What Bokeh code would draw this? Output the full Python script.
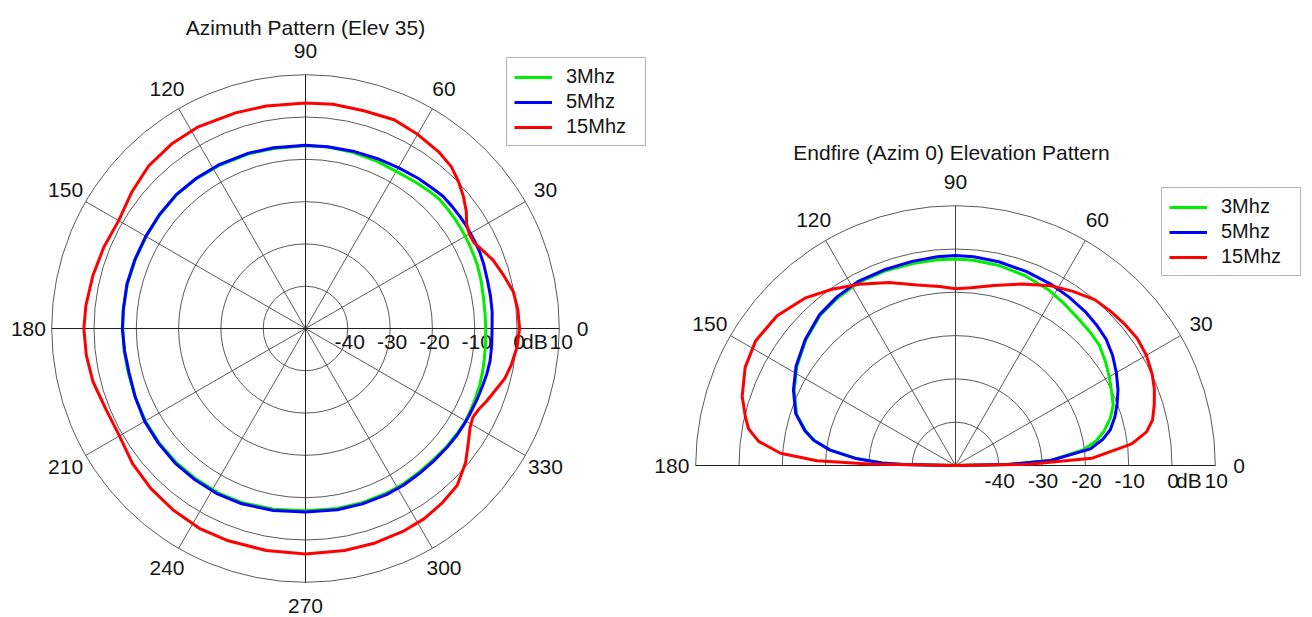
import numpy as np
from bokeh.plotting import figure
from bokeh.layouts import row
from bokeh.models import Legend, LegendItem, Range1d
from bokeh.embed import file_html
from bokeh.resources import INLINE
from bokeh.core.properties import value

# ---------------- data ----------------
SERIES = ["3Mhz", "5Mhz", "15Mhz"]
COLORS = ["#00ee00", "#0000ff", "#ff0000"]
DB_MIN = -50
RING_DB = [-40, -30, -20, -10, 0, 10]
RING_LABELS = ["-40", "-30", "-20", "-10", "0", "10"]

AZ_TITLE = "Azimuth Pattern (Elev 35)"
EL_TITLE = "Endfire (Azim 0) Elevation Pattern"
AZ_TICKS = [0, 30, 60, 90, 120, 150, 180, 210, 240, 270, 300, 330]
EL_TICKS = [0, 30, 60, 90, 120, 150, 180]

AZ_ANG = [0, 5, 10, 15, 20, 24, 27, 30, 33, 36, 40, 44, 48, 53, 60, 67, 75, 83, 90,
          100, 108, 118, 126, 134, 142, 150, 158, 166, 174, 180, 187, 194, 202, 210,
          218, 226, 234, 242, 250, 260, 270, 280, 288, 296, 302, 308, 314, 320, 325,
          329, 332, 335, 338, 342, 346, 350, 355, 360]
AZ_3MHZ = [-7.4, -7.4, -7.3, -7.0, -6.7, -6.6, -6.5, -6.4, -6.3, -6.2, -6.1, -6.0, -6.3,
           -6.7, -7.1, -7.0, -6.9, -6.8, -6.8, -6.8, -6.6, -6.4, -6.2, -6.1, -6.3, -6.5,
           -6.6, -6.6, -6.7, -6.8, -6.8, -6.8, -6.6, -6.3, -6.1, -6.0, -6.0, -6.0, -6.2,
           -6.6, -6.9, -6.8, -6.7, -6.6, -6.6, -6.7, -6.7, -6.5, -6.4, -6.3, -6.4, -6.5,
           -6.6, -6.7, -6.9, -7.1, -7.3, -7.4]
AZ_5MHZ = [-5.9, -5.7, -5.6, -5.5, -5.2, -5.0, -5.0, -5.0, -4.9, -4.9, -4.9, -4.9, -5.3,
           -5.6, -6.1, -6.4, -6.6, -6.7, -6.7, -6.6, -6.4, -6.2, -6.1, -6.0, -6.2, -6.4,
           -6.5, -6.5, -6.7, -6.7, -6.9, -7.0, -6.6, -6.1, -5.9, -5.7, -5.7, -5.7, -5.9,
           -6.3, -6.6, -6.5, -6.4, -6.3, -6.3, -6.4, -6.4, -6.3, -6.2, -6.2, -6.2, -6.2,
           -6.1, -6.0, -5.8, -5.7, -5.8, -5.9]
AZ_15MHZ = [0.6, 0.4, -0.1, -1.5, -2.8, -4.3, -5.3, -5.3, -4.6, -3.0, -1.3, 0.2, 1.5,
            2.3, 3.0, 3.6, 3.3, 3.4, 3.3, 3.4, 3.6, 4.0, 3.9, 3.4, 2.2, 1.0, 1.4, 1.8,
            2.2, 2.4, 2.2, 1.8, 0.9, 0.8, 1.9, 2.6, 3.1, 3.5, 3.4, 3.3, 3.3, 3.3, 3.3,
            3.2, 3.0, 2.4, 1.6, -0.6, -3.0, -4.6, -5.2, -4.8, -3.9, -2.8, -1.4, -0.6,
            0.2, 0.6]

EL_ANG = [0, 1, 3, 7, 10, 13, 17, 21, 25, 30, 35, 40, 45, 50, 56, 62, 70, 78, 85, 90,
          95, 102, 110, 118, 125, 132, 140, 148, 155, 162, 167, 170, 173, 176, 178, 179, 180]
EL_3MHZ = [-50, -38, -28, -20.2, -17.0, -14.8, -12.6, -11.0, -10.2, -9.0, -7.8, -6.7,
           -6.2, -5.8, -5.0, -4.1, -3.3, -2.7, -2.4, -2.3, -2.3, -2.3, -2.2, -2.2, -2.7,
           -3.3, -4.9, -6.8, -8.9, -11.4, -14.5, -17.0, -21.0, -27.2, -33, -38, -50]
EL_5MHZ = [-50, -38, -28, -18.6, -15.5, -13.3, -11.5, -10.0, -8.6, -7.1, -5.7, -4.6,
           -4.0, -3.5, -3.1, -2.7, -2.3, -1.9, -1.6, -1.5, -1.6, -1.8, -1.9, -1.9, -2.4,
           -3.1, -4.7, -6.6, -8.7, -11.2, -14.3, -16.8, -20.8, -27.0, -33, -38, -50]
EL_15MHZ = [-50, -33, -18.5, -9.0, -5.2, -3.3, -2.0, -0.8, 0.1, 0.9, 1.2, 0.9, 0.5, 0.0,
            -1.5, -3.0, -5.4, -7.5, -8.8, -9.2, -8.5, -7.4, -5.0, -2.6, -0.3, 2.0, 3.8,
            4.4, 3.6, 1.8, -0.2, -1.5, -4.2, -9.5, -18, -30, -50]

# ---------------- styling ----------------
FONT = value("Liberation Sans")
FS = value("21px")
TXT = "#151515"
RING_C = "#5a5a5a"
H = 617


def to_xy(ang, db):
    a = np.radians(np.asarray(ang, dtype=float))
    r = np.clip(np.asarray(db, dtype=float) - DB_MIN, 0, None)
    return r * np.cos(a), r * np.sin(a)


def make_fig(width, cx, cy, ppu):
    p = figure(width=width, height=H, output_backend="svg", toolbar_location=None,
               x_axis_type=None, y_axis_type=None, min_border=0,
               x_range=Range1d(-cx / ppu, (width - cx) / ppu),
               y_range=Range1d(-(H - cy) / ppu, cy / ppu),
               background_fill_color="white", border_fill_color="white")
    p.outline_line_color = None
    p.grid.visible = False
    return p


def draw_polar(p, ppu, full, ticks, title, title_dx, title_r, lab_dy, db_dx):
    rmax = RING_DB[-1] - DB_MIN
    radii = [d - DB_MIN for d in RING_DB]
    if full:
        p.circle(x=[0] * len(radii), y=[0] * len(radii), radius=radii,
                 fill_color=None, line_color=RING_C, line_width=1)
    else:
        p.arc(x=[0] * len(radii), y=[0] * len(radii), radius=radii,
              start_angle=0, end_angle=np.pi, line_color=RING_C, line_width=1)
    # spokes
    sp = [a for a in ticks if a % 90 != 0]
    a = np.radians(sp)
    p.segment(x0=0, y0=0, x1=rmax * np.cos(a), y1=rmax * np.sin(a),
              line_color=RING_C, line_width=1)
    main = [a for a in ticks if a % 90 == 0]
    a = np.radians(main)
    p.segment(x0=0, y0=0, x1=rmax * np.cos(a), y1=rmax * np.sin(a),
              line_color="#202020" if full else "#404040", line_width=1)
    if not full:
        p.segment(x0=[-rmax], y0=[0], x1=[rmax], y1=[0], line_color="#202020", line_width=1)
    # angle labels
    lr = 65.5
    a = np.radians(ticks)
    p.text(x=lr * np.cos(a), y=lr * np.sin(a), text=[str(t) for t in ticks],
           text_font=FONT, text_font_size=FS, text_color=TXT,
           text_align="center", text_baseline="middle")
    # dB labels
    xs = [d - DB_MIN + db_dx / ppu for d in RING_DB]
    p.text(x=xs, y=[-lab_dy / ppu] * len(xs), text=RING_LABELS,
           text_font=FONT, text_font_size=FS, text_color=TXT,
           text_align="center", text_baseline="middle")
    p.text(x=[0 - DB_MIN + (db_dx + 3) / ppu], y=[-lab_dy / ppu], text=["dB"],
           text_font=FONT, text_font_size=FS, text_color=TXT,
           text_align="left", text_baseline="middle")
    # title
    p.text(x=[title_dx / ppu], y=[title_r], text=[title],
           text_font=FONT, text_font_size=FS, text_color=TXT,
           text_align="center", text_baseline="middle")


def draw_series(p, ang, data, loc):
    items = []
    for name, col, vals in zip(SERIES, COLORS, data):
        x, y = to_xy(ang, vals)
        r = p.line(x, y, line_color=col, line_width=3)
        items.append(LegendItem(label=name, renderers=[r]))
    lg = Legend(items=items, location=loc, orientation="vertical",
                border_line_color="#707070", border_line_width=1,
                background_fill_color="white", background_fill_alpha=1.0,
                padding=7, spacing=2, margin=0,
                glyph_width=38, glyph_height=20, label_height=20,
                label_width=72, label_standoff=14,
                label_text_font="Liberation Sans", label_text_font_size="20px",
                label_text_color=TXT)
    p.add_layout(lg)


# left: azimuth (centre at page x=305, y=328)
PPU_L = 4.23
p1 = make_fig(648, 305, 328, PPU_L)
draw_polar(p1, PPU_L, True, AZ_TICKS, AZ_TITLE, 0, 71.2, 13, 2)
draw_series(p1, AZ_ANG, [AZ_3MHZ, AZ_5MHZ, AZ_15MHZ], (506, 471))

# right: elevation (centre at page x=955, y=465)
PPU_R = 4.33
p2 = make_fig(664, 955 - 648, 465, PPU_R)
draw_polar(p2, PPU_R, False, EL_TICKS, EL_TITLE, -4, 72.3, 15, 1)
draw_series(p2, EL_ANG, [EL_3MHZ, EL_5MHZ, EL_15MHZ], (513, 341))

layout = row(p1, p2, spacing=0)
open("out.html", "w").write(file_html(layout, INLINE))
